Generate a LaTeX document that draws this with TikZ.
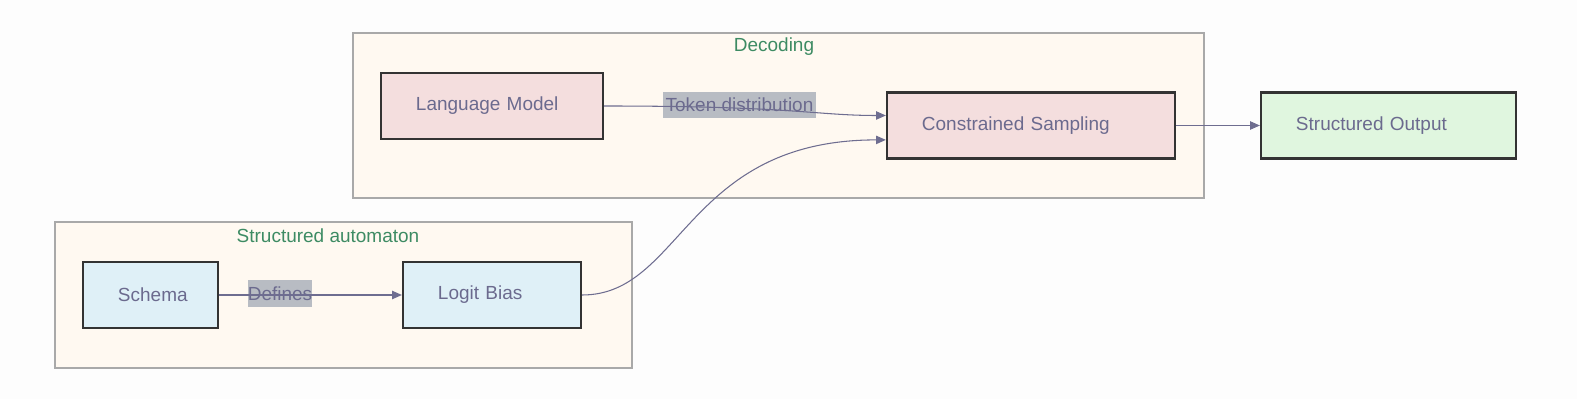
\documentclass[tikz,border=0pt]{standalone}
\usepackage{fontspec}
\setmainfont{Liberation Sans}
\usetikzlibrary{arrows.meta, positioning}
\definecolor{pagebg}{HTML}{FDFDFD}
\definecolor{clusterfill}{HTML}{FFF9F1}
\definecolor{clusterline}{HTML}{A9A9A9}
\definecolor{titlegreen}{HTML}{3D8B63}
\definecolor{nodetext}{HTML}{6B6A8E}
\definecolor{edgecolor}{HTML}{6E6D90}
\definecolor{boxline}{HTML}{333333}
\definecolor{modelpink}{HTML}{F4DEDE}
\definecolor{automatonblue}{HTML}{DFF0F7}
\definecolor{outputgreen}{HTML}{E0F6DF}
\definecolor{labelgray}{HTML}{B8BCC3}

\begin{document}
\begin{tikzpicture}[x=0.025cm, y=-0.025cm,
    every node/.style={font=\fontsize{13.5}{16}\selectfont, text=nodetext},
    cluster/.style={draw=clusterline, fill=clusterfill, line width=1pt},
    clustertitle/.style={text=titlegreen},
    stepbox/.style={draw=boxline, line width=1.6pt, minimum height=1.65cm, inner xsep=0.875cm, align=left},
    edgelabel/.style={fill=labelgray, minimum height=0.65cm, inner ysep=0pt},
    flow/.style={draw=edgecolor, line width=0.75pt, -{Triangle[length=7pt,width=6pt]}}]

    \fill[pagebg] (0,0) rectangle (1577,399);
    \draw[cluster] (353,33) rectangle (1204,198);
    \draw[cluster] (55,222) rectangle (632,368);

    \node[clustertitle] (dectitle) at (774,47) {Decoding};
    \node[clustertitle] (autotitle) at (328,236) {Structured automaton};

    \node[edgelabel, inner xsep=0.06cm] (tdlab) at (739.5,105) {Token distribution};
    \node[edgelabel, inner xsep=0pt] (deflab) at (280,293.5) {Defines};

    \node[stepbox, fill=modelpink, text width=3.8cm] (lm) at (492,106) {Language Model};
    \node[stepbox, fill=modelpink, text width=5.45cm] (cs) at (1031,125.5) {Constrained Sampling};
    \node[stepbox, fill=outputgreen, text width=4.625cm] (so) at (1388.5,125.5) {Structured Output};
    \node[stepbox, fill=automatonblue, text width=1.625cm] (sch) at (150.5,295) {Schema};
    \node[stepbox, fill=automatonblue, text width=2.7cm] (lb) at (492,295) {Logit Bias};

    \draw[flow] (lm.east) .. controls +(190,0) and +(-70,0) .. ([yshift=0.25cm]cs.west);
    \draw[flow] (lb.east) .. controls +(100,0) and +(-200,0) .. ([yshift=-0.36cm]cs.west);
    \draw[flow] (cs.east) -- (so.west);
    \draw[flow] (sch.east) -- (lb.west);
  \end{tikzpicture}
\end{document}
